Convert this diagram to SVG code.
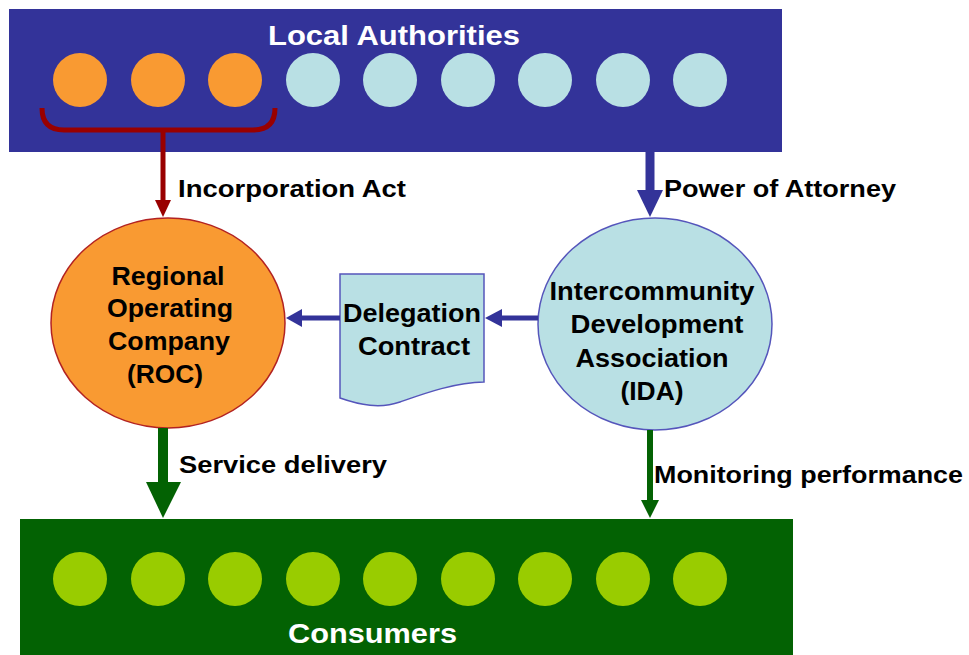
<svg xmlns="http://www.w3.org/2000/svg" width="969" height="655" viewBox="0 0 969 655">
<style>
.lbl{font-family:"Liberation Sans",Arial,sans-serif;font-weight:bold;fill:#000;font-size:24px}
.node{font-family:"Liberation Sans",Arial,sans-serif;font-weight:bold;fill:#000;font-size:25px;text-anchor:middle}
.title{font-family:"Liberation Sans",Arial,sans-serif;font-weight:bold;fill:#fff;font-size:28px}
.orange{fill:#F99A32}
.lblue{fill:#B9E0E4}
.lgreen{fill:#99CC00}
</style>
<rect width="969" height="655" fill="#fff"/>
<g id="local-authorities">
<rect x="9" y="9" width="773" height="143" fill="#333399"/>
<text class="title" x="268" y="45" textLength="252" lengthAdjust="spacingAndGlyphs">Local Authorities</text>
<circle class="orange" cx="80" cy="80" r="27"/>
<circle class="orange" cx="158" cy="80" r="27"/>
<circle class="orange" cx="235" cy="80" r="27"/>
<circle class="lblue" cx="313" cy="80" r="27"/>
<circle class="lblue" cx="390" cy="80" r="27"/>
<circle class="lblue" cx="468" cy="80" r="27"/>
<circle class="lblue" cx="545" cy="80" r="27"/>
<circle class="lblue" cx="623" cy="80" r="27"/>
<circle class="lblue" cx="700" cy="80" r="27"/>
</g>
<g id="consumers">
<rect x="20" y="519" width="773" height="140" fill="#036203"/>
<circle class="lgreen" cx="80" cy="579" r="27"/>
<circle class="lgreen" cx="158" cy="579" r="27"/>
<circle class="lgreen" cx="235" cy="579" r="27"/>
<circle class="lgreen" cx="313" cy="579" r="27"/>
<circle class="lgreen" cx="390" cy="579" r="27"/>
<circle class="lgreen" cx="468" cy="579" r="27"/>
<circle class="lgreen" cx="545" cy="579" r="27"/>
<circle class="lgreen" cx="623" cy="579" r="27"/>
<circle class="lgreen" cx="700" cy="579" r="27"/>
<text class="title" x="288" y="643" textLength="169" lengthAdjust="spacingAndGlyphs">Consumers</text>
</g>
<g id="roc">
<ellipse cx="168" cy="323" rx="117" ry="105" fill="#F99A32" stroke="#B22222" stroke-width="1.5"/>
<text class="node" x="168" y="285" textLength="113" lengthAdjust="spacingAndGlyphs">Regional</text>
<text class="node" x="170" y="317" textLength="126" lengthAdjust="spacingAndGlyphs">Operating</text>
<text class="node" x="169" y="350" textLength="122" lengthAdjust="spacingAndGlyphs">Company</text>
<text class="node" x="165" y="383" textLength="76" lengthAdjust="spacingAndGlyphs">(ROC)</text>
</g>
<g id="delegation-contract">
<path d="M340 274 H484 V382 C455 382 420 395 400 402 C380 409 360 405 340 398 Z" fill="#B9E0E4" stroke="#5555BB" stroke-width="1.5"/>
<text class="node" x="412" y="322" textLength="138" lengthAdjust="spacingAndGlyphs">Delegation</text>
<text class="node" x="414" y="355" textLength="112" lengthAdjust="spacingAndGlyphs">Contract</text>
</g>
<g id="ida">
<ellipse cx="655" cy="324" rx="117" ry="106" fill="#B9E0E4" stroke="#5555BB" stroke-width="1.5"/>
<text class="node" x="652" y="300" textLength="205" lengthAdjust="spacingAndGlyphs">Intercommunity</text>
<text class="node" x="657" y="333" textLength="173" lengthAdjust="spacingAndGlyphs">Development</text>
<text class="node" x="652" y="367" textLength="153" lengthAdjust="spacingAndGlyphs">Association</text>
<text class="node" x="652" y="400" textLength="63" lengthAdjust="spacingAndGlyphs">(IDA)</text>
</g>
<g id="connectors">
<path d="M42 108 Q42 130 64 130 H253 Q275 130 275 108" fill="none" stroke="#990000" stroke-width="5"/>
<line x1="163" y1="130" x2="163" y2="202" stroke="#990000" stroke-width="5"/>
<polygon points="155,200 171,200 163,217" fill="#990000"/>
<line x1="650" y1="152" x2="650" y2="192" stroke="#333399" stroke-width="9"/>
<polygon points="637,190 663,190 650,217" fill="#333399"/>
<line x1="340" y1="318" x2="300" y2="318" stroke="#333399" stroke-width="5"/>
<polygon points="302,309 302,327 286,318" fill="#333399"/>
<line x1="538" y1="318" x2="500" y2="318" stroke="#333399" stroke-width="5"/>
<polygon points="502,309 502,327 485,318" fill="#333399"/>
<line x1="163" y1="428" x2="163" y2="484" stroke="#036203" stroke-width="10"/>
<polygon points="146,482 181,482 163,518" fill="#036203"/>
<line x1="650" y1="430" x2="650" y2="502" stroke="#036203" stroke-width="6"/>
<polygon points="641,500 659,500 650,518" fill="#036203"/>
<text class="lbl" x="178" y="197" textLength="228" lengthAdjust="spacingAndGlyphs">Incorporation Act</text>
<text class="lbl" x="664" y="197" textLength="232" lengthAdjust="spacingAndGlyphs">Power of Attorney</text>
<text class="lbl" x="179" y="473" textLength="208" lengthAdjust="spacingAndGlyphs">Service delivery</text>
<text class="lbl" x="654" y="483" textLength="309" lengthAdjust="spacingAndGlyphs">Monitoring performance</text>
</g>
</svg>
